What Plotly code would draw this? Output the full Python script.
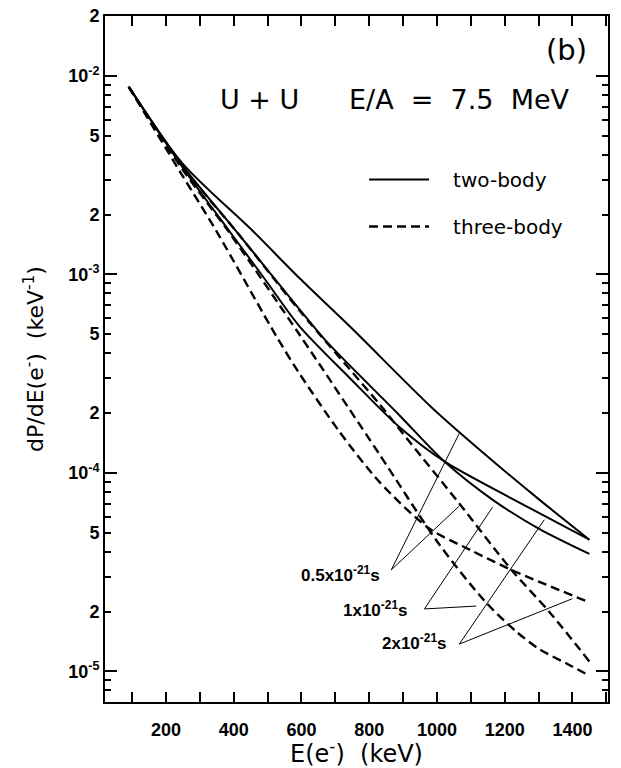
import math
import plotly.graph_objects as go

# ---------------- data ----------------
# two-body (solid) curves, one per time delay
E_two_05 = [90, 248, 455, 593, 741, 986, 1125, 1303, 1450]
P_two_05 = [8.8e-3, 3.63e-3, 1.66e-3, 9.6e-4, 5.5e-4, 2.12e-4, 1.31e-4, 7.3e-5, 4.6e-5]

E_two_1 = [90, 248, 416, 593, 673, 889, 1022, 1170, 1303, 1450]
P_two_1 = [8.8e-3, 3.55e-3, 1.58e-3, 6.7e-4, 4.6e-4, 1.95e-4, 1.14e-4, 7.2e-5, 5.2e-5, 3.9e-5]

E_two_2 = [90, 248, 386, 490, 593, 741, 889, 1022, 1235, 1450]
P_two_2 = [8.8e-3, 3.47e-3, 1.66e-3, 9.55e-4, 5.5e-4, 3.02e-4, 1.70e-4, 1.14e-4, 7.2e-5, 4.6e-5]

# three-body (dashed) curves
E_three_05 = [90, 248, 416, 593, 830, 918, 1066, 1220, 1332, 1450]
P_three_05 = [8.8e-3, 3.51e-3, 1.58e-3, 6.6e-4, 2.22e-4, 1.44e-4, 7.0e-5, 3.24e-5, 1.99e-5, 1.12e-5]

E_three_1 = [90, 248, 386, 593, 830, 1007, 1146, 1235, 1303, 1380, 1450]
P_three_1 = [8.8e-3, 3.39e-3, 1.63e-3, 5.0e-4, 1.24e-4, 4.35e-5, 2.21e-5, 1.58e-5, 1.29e-5, 1.10e-5, 9.5e-6]

E_three_2 = [90, 248, 348, 528, 593, 711, 830, 977, 1100, 1220, 1445]
P_three_2 = [8.8e-3, 3.15e-3, 1.66e-3, 4.8e-4, 3.18e-4, 1.62e-4, 9.0e-5, 5.24e-5, 4.07e-5, 3.24e-5, 2.24e-5]

# time-delay labels and their pointer lines
delay_labels = ["0.5x10<sup>-21</sup>s", "1x10<sup>-21</sup>s", "2x10<sup>-21</sup>s"]
label_E = [839, 918, 1034]
label_P = [3.1e-5, 2.06e-5, 1.40e-5]
apex_E = [865, 963, 1066]
apex_P = [3.24e-5, 2.06e-5, 1.37e-5]
tipA_E = [1066, 1164, 1317]
tipA_P = [1.58e-4, 6.7e-5, 5.8e-5]
tipB_E = [1066, 1116, 1400]
tipB_P = [6.8e-5, 2.13e-5, 2.32e-5]

# axis ticks
x_major = [200, 400, 600, 800, 1000, 1200, 1400]
x_minor = [100, 300, 500, 700, 900, 1100, 1300, 1500]
y_labeled = [1e-5, 2e-5, 5e-5, 1e-4, 2e-4, 5e-4, 1e-3, 2e-3, 5e-3, 1e-2, 2e-2]
y_labels = ["10<sup>-5</sup>", "2", "5", "10<sup>-4</sup>", "2", "5",
            "10<sup>-3</sup>", "2", "5", "10<sup>-2</sup>", "2"]
y_decades = [1e-5, 1e-4, 1e-3, 1e-2]
y_minor = [m * d for d in [1e-6, 1e-5, 1e-4, 1e-3] for m in [3, 4, 6, 7, 8, 9]] + [8e-6, 9e-6]

x_range = [20, 1505]
y_range = [math.log10(7e-6), math.log10(2e-2)]

# ---------------- figure ----------------
FONT = "DejaVu Sans"
TICKFONT = "Liberation Sans"
NB = "\u00a0"
solid = dict(color="black", width=2, shape="spline", smoothing=0.8)
dashed = dict(color="black", width=2.4, dash="9px,5px", shape="spline", smoothing=0.8)

fig = go.Figure()
fig.add_trace(go.Scatter(x=E_two_05, y=P_two_05, mode="lines", line=solid,
                         name=NB * 3 + "two-body", legendgroup="a", showlegend=True))
fig.add_trace(go.Scatter(x=E_two_1, y=P_two_1, mode="lines", line=solid, showlegend=False))
fig.add_trace(go.Scatter(x=E_two_2, y=P_two_2, mode="lines", line=solid, showlegend=False))
fig.add_trace(go.Scatter(x=E_three_05, y=P_three_05, mode="lines", line=dashed,
                         name=NB * 3 + "three-body", legendgroup="b", showlegend=True))
fig.add_trace(go.Scatter(x=E_three_1, y=P_three_1, mode="lines", line=dashed, showlegend=False))
# this one lives on the overlaying axis that carries the long decade ticks
fig.add_trace(go.Scatter(x=E_three_2, y=P_three_2, mode="lines", line=dashed,
                         showlegend=False, yaxis="y2"))

for i in range(3):
    fig.add_trace(go.Scatter(x=[tipA_E[i], apex_E[i], tipB_E[i]],
                             y=[tipA_P[i], apex_P[i], tipB_P[i]],
                             mode="lines", line=dict(color="black", width=1),
                             showlegend=False))
    fig.add_annotation(x=label_E[i], y=math.log10(label_P[i]), text=delay_labels[i],
                       showarrow=False, xanchor="right", yanchor="middle",
                       font=dict(family=TICKFONT, size=17, color="black", weight="bold"))

fig.add_annotation(x=0.308, y=0.878, xref="paper", yref="paper", text="U + U",
                   xanchor="center", yanchor="middle", showarrow=False,
                   font=dict(family=FONT, size=27, color="black"))
fig.add_annotation(x=0.704, y=0.878, xref="paper", yref="paper", text="E/A  =  7.5  MeV",
                   xanchor="center", yanchor="middle", showarrow=False,
                   font=dict(family=FONT, size=27, color="black"))
fig.add_annotation(x=0.917, y=0.951, xref="paper", yref="paper", text="(b)",
                   xanchor="center", yanchor="middle", showarrow=False,
                   font=dict(family=FONT, size=29, color="black"))

axis_common = dict(showgrid=False, zeroline=False, showline=True, linecolor="black",
                   linewidth=2, mirror="allticks", ticks="inside", tickcolor="black",
                   automargin=False)

fig.update_layout(
    width=621, height=768,
    margin=dict(l=105, r=13, t=16, b=66),
    paper_bgcolor="white", plot_bgcolor="white",
    showlegend=True,
    legend=dict(x=0.515, y=0.79, xanchor="left", yanchor="top",
                bgcolor="rgba(0,0,0,0)", traceorder="grouped", tracegroupgap=18,
                itemwidth=60, font=dict(family=FONT, size=20, color="black")),
    xaxis=dict(**axis_common, range=x_range, tickvals=x_major, ticklen=10, tickwidth=2,
               minor=dict(tickvals=x_minor, ticklen=6, tickwidth=2, ticks="inside",
                          tickcolor="black"),
               tickfont=dict(family=TICKFONT, size=18, color="black", weight="bold"),
               ticklabelstandoff=10,
               title=dict(text="E(e<sup>-</sup>)  (keV)", standoff=9,
                          font=dict(family=FONT, size=24, color="black"))),
    yaxis=dict(**axis_common, type="log", range=y_range, tickvals=y_labeled,
               ticktext=y_labels, ticklen=6, tickwidth=2,
               minor=dict(tickvals=y_minor, ticklen=6, tickwidth=2, ticks="inside",
                          tickcolor="black"),
               tickfont=dict(family=TICKFONT, size=18, color="black", weight="bold"),
               title=dict(text="dP/dE(e<sup>-</sup>)  (keV<sup>-1</sup>)", standoff=18,
                          font=dict(family=FONT, size=22, color="black"))),
    yaxis2=dict(type="log", range=y_range, overlaying="y", anchor="x", side="left",
                tickvals=y_decades, ticklen=12, tickwidth=2, ticks="inside",
                tickcolor="black", showticklabels=False, showline=False,
                mirror="allticks", showgrid=False, zeroline=False, automargin=False),
)

fig.write_html("out.html")
